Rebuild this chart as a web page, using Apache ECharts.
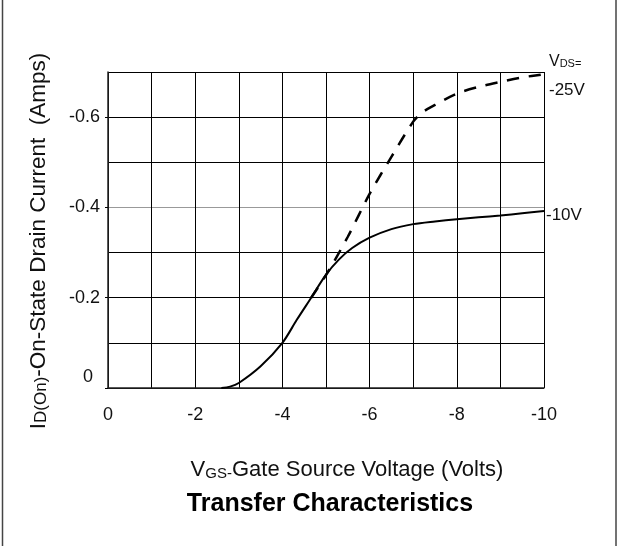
<!DOCTYPE html>
<html><head><meta charset="utf-8">
<script src="https://cdn.jsdelivr.net/npm/echarts@6/dist/echarts.min.js"></script>
<style>html,body{margin:0;padding:0;background:#fff}#c{width:618px;height:546px}</style>
</head><body><div id="c"></div>
<script>
// -10V curve
const vgs10 = [-2.6, -2.8, -3.0, -3.5, -4.0, -4.33, -4.66, -5.0, -5.3, -5.6, -6.0, -6.5, -7.0, -7.5, -8.0, -8.5, -9.0, -9.5, -10];
const id10  = [0, -0.003, -0.011, -0.048, -0.10, -0.151, -0.20, -0.251, -0.285, -0.310, -0.333, -0.352, -0.363, -0.369, -0.374, -0.378, -0.382, -0.387, -0.392];
// -25V curve
const vgs25 = [-4.66, -5.0, -5.5, -6.0, -6.5, -7.0, -7.2, -7.5, -8.0, -8.5, -9.0, -9.5, -10];
const id25  = [-0.20, -0.25, -0.335, -0.430, -0.512, -0.590, -0.610, -0.627, -0.652, -0.667, -0.678, -0.688, -0.695];
const seriesLabels = ['-10V', '-25V'];
const xTickLabels = [0, -2, -4, -6, -8, -10];
const yTickLabels = [0, -0.2, -0.4, -0.6];

const FONT = 'Liberation Sans, Arial, sans-serif';
const TXT = '#111';
const zip = (a, b) => a.map((v, i) => [v, b[i]]);

const chart = echarts.init(document.getElementById('c'), null, {renderer: 'canvas'});
chart.setOption({
  animation: false,
  backgroundColor: '#fff',
  grid: {left: 108, right: 74, top: 72, bottom: 158},
  xAxis: {
    type: 'value', min: -10, max: 0, interval: 1, inverse: true,
    axisLine: {show: true, onZero: false, lineStyle: {color: '#222', width: 1.5}},
    axisTick: {show: false},
    axisLabel: {customValues: xTickLabels, margin: 18, fontSize: 18, fontFamily: FONT, color: TXT},
    splitLine: {show: true, lineStyle: {color: '#000', width: 1}}
  },
  yAxis: [
    {
      type: 'value', min: -0.7, max: 0, interval: 0.1, inverse: true,
      axisLine: {show: true, onZero: false, lineStyle: {color: '#222', width: 1.5}},
      axisTick: {show: false},
      axisLabel: {
        customValues: yTickLabels, margin: 8, fontSize: 18, fontFamily: FONT, color: TXT,
        formatter: v => (Math.abs(v) < 1e-9 ? '{z|0}' : String(v)),
        rich: {z: {fontSize: 18, fontFamily: FONT, color: TXT, padding: [0, 7, 22, 0]}}
      },
      splitLine: {show: true, lineStyle: {color: ['#000', '#000', '#000', '#999', '#000', '#000', '#000', '#000'], width: 1}}
    },
    {
      type: 'value', min: -0.7, max: 0, interval: 0.1, inverse: true, position: 'left', offset: 0,
      axisLine: {show: false},
      axisTick: {show: true, customValues: yTickLabels, length: 3, lineStyle: {color: '#000', width: 1}},
      axisLabel: {show: false},
      splitLine: {show: false}
    }
  ],
  series: [
    {
      name: seriesLabels[0], type: 'line', data: zip(vgs10, id10), showSymbol: false,
      smooth: 0.3,
      lineStyle: {color: '#000', width: 2},
      endLabel: {show: true, formatter: seriesLabels[0], align: 'left', distance: -2, offset: [0, 4], fontSize: 17, fontFamily: FONT, color: TXT}
    },
    {
      name: seriesLabels[1], type: 'line', data: zip(vgs25, id25), showSymbol: false,
      smooth: 0.3,
      lineStyle: {color: '#000', width: 2.5, type: [12, 10]},
      endLabel: {
        show: true, align: 'left', distance: -5, offset: [0, 2],
        formatter: '{v|V}{s|DS=}\n{n|' + seriesLabels[1] + '}',
        rich: {
          v: {fontSize: 16, fontFamily: FONT, color: TXT, verticalAlign: 'bottom'},
          s: {fontSize: 11, fontFamily: FONT, color: TXT, verticalAlign: 'bottom'},
          n: {fontSize: 17, fontFamily: FONT, color: TXT, padding: [13, 0, 0, 0]}
        }
      }
    }
  ],
  graphic: [
    {type: 'line', shape: {x1: 2.5, y1: 0, x2: 2.5, y2: 546}, style: {stroke: '#444', lineWidth: 1.5}},
    {type: 'line', shape: {x1: 616, y1: 0, x2: 616, y2: 546}, style: {stroke: '#444', lineWidth: 1.5}},
    {
      type: 'text', x: 37, y: 241, rotation: Math.PI / 2,
      style: {
        text: '{n|I}{s|D(On)}{n|-On-State Drain Current  (Amps)}',
        align: 'center', verticalAlign: 'middle', fill: TXT,
        rich: {
          n: {fontSize: 22.5, fontFamily: FONT, fill: TXT, lineHeight: 26, verticalAlign: 'bottom'},
          s: {fontSize: 17, fontFamily: FONT, fill: TXT, lineHeight: 22, verticalAlign: 'bottom'}
        }
      }
    },
    {
      type: 'text', x: 347, y: 468,
      style: {
        text: '{n|V}{s|GS-}{n|Gate Source Voltage (Volts)}',
        align: 'center', verticalAlign: 'middle', fill: TXT,
        rich: {
          n: {fontSize: 22, fontFamily: FONT, fill: TXT, lineHeight: 26, verticalAlign: 'bottom'},
          s: {fontSize: 15, fontFamily: FONT, fill: TXT, lineHeight: 22, verticalAlign: 'bottom'}
        }
      }
    },
    {
      type: 'text', x: 330, y: 504,
      style: {text: 'Transfer Characteristics', font: 'bold 25px ' + FONT, fill: '#000', align: 'center', verticalAlign: 'middle'}
    }
  ]
});
</script>
</body></html>
